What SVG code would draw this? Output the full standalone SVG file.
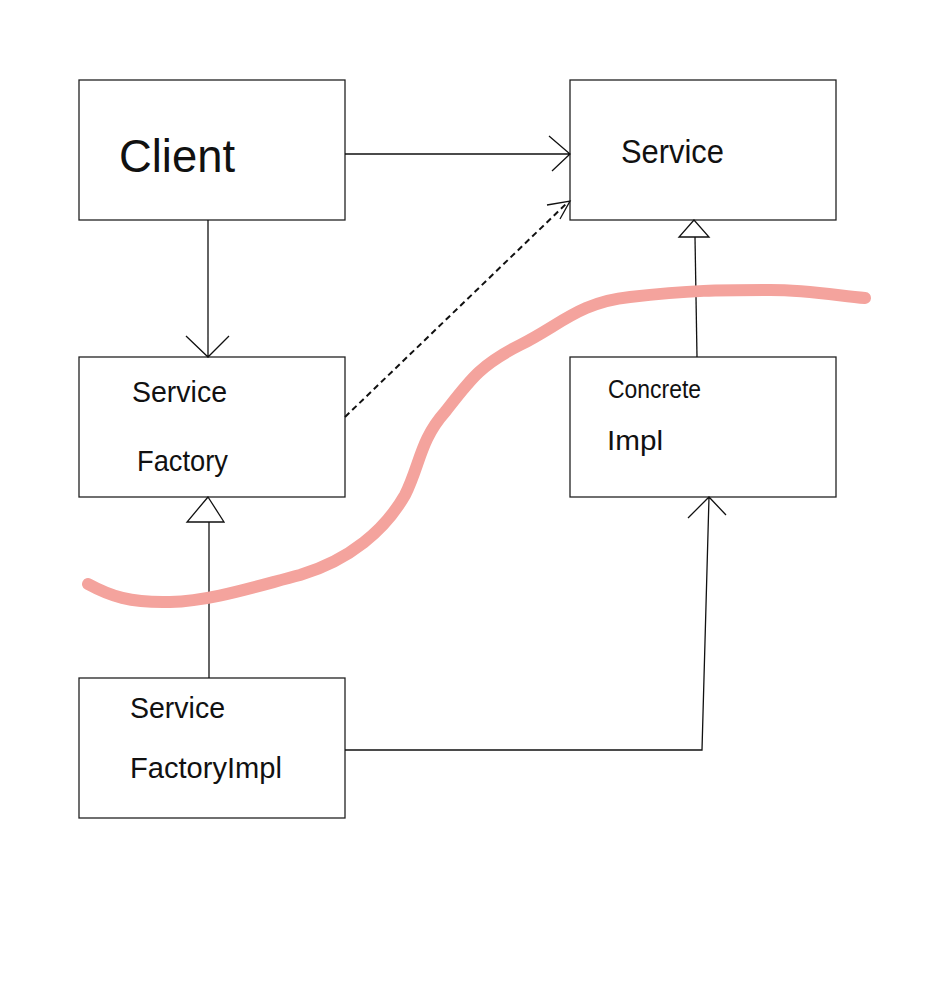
<svg xmlns="http://www.w3.org/2000/svg" width="941" height="995" viewBox="0 0 941 995">
<style>
.box{fill:#fff;stroke:#222;stroke-width:1.3}
.ln{fill:none;stroke:#111;stroke-width:1.3}
.dash{fill:none;stroke:#111;stroke-width:2;stroke-dasharray:6,4}
.tri{fill:#fff;stroke:#111;stroke-width:1.3}
text{font-family:"Liberation Sans",Arial,sans-serif;fill:#111}
</style>
<rect width="941" height="995" fill="#fff"/>
<g id="client"><rect class="box" x="79" y="80" width="266" height="140"/><text x="119" y="172" font-size="46" textLength="116" lengthAdjust="spacingAndGlyphs">Client</text></g>
<g id="service"><rect class="box" x="570" y="80" width="266" height="140"/><text x="621" y="163" font-size="34" textLength="103" lengthAdjust="spacingAndGlyphs">Service</text></g>
<g id="serviceFactory"><rect class="box" x="79" y="357" width="266" height="140"/><text x="132" y="402" font-size="29" textLength="95" lengthAdjust="spacingAndGlyphs">Service</text><text x="137" y="471" font-size="29" textLength="91" lengthAdjust="spacingAndGlyphs">Factory</text></g>
<g id="concreteImpl"><rect class="box" x="570" y="357" width="266" height="140"/><text x="608" y="398" font-size="25" textLength="93" lengthAdjust="spacingAndGlyphs">Concrete</text><text x="607" y="450" font-size="27" textLength="56" lengthAdjust="spacingAndGlyphs">Impl</text></g>
<g id="serviceFactoryImpl"><rect class="box" x="79" y="678" width="266" height="140"/><text x="130" y="718" font-size="29" textLength="95" lengthAdjust="spacingAndGlyphs">Service</text><text x="130" y="778" font-size="29" textLength="152" lengthAdjust="spacingAndGlyphs">FactoryImpl</text></g>
<g id="connectors">
<path class="ln" d="M345 154 H570 M549 136 L570 154 L552 171"/>
<path class="ln" d="M208 220 V357 M186 336 L208 357 L229 336"/>
<path class="dash" d="M345 417 L567 203"/>
<path class="ln" d="M547 205 L570 201 L560 219"/>
<path class="ln" d="M209 678 V522"/>
<path class="tri" d="M208 497 L187 522 L224 522 Z"/>
<path class="ln" d="M697 357 L695 237"/>
<path class="tri" d="M694 220 L679 237 L709 237 Z"/>
<path class="ln" d="M345 750 H702 L709 497 M688 518 L709 497 L726 515"/>
</g>
<path d="M88 584 C110 596 130 603 170 602 C210 601 250 588 300 575 C350 560 385 530 405 495 C420 465 420 440 445 412 C470 380 480 365 520 345 C560 325 580 302 630 297 C690 290 720 290 770 290 C810 290 840 296 865 298" fill="none" stroke="#f4a39d" stroke-width="12" stroke-linecap="round"/>
</svg>
